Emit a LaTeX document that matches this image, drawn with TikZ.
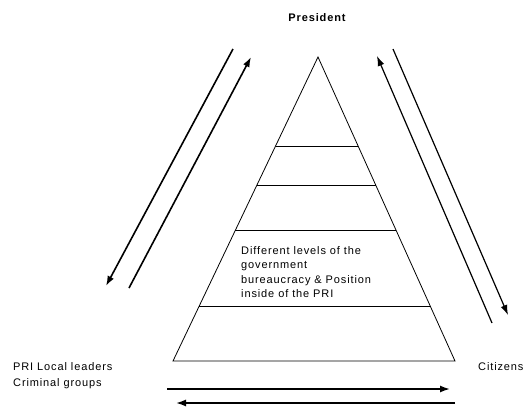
\documentclass[tikz,border=0pt]{standalone}
\usepackage{fontspec}
\setmainfont{Liberation Sans}[LetterSpace=8]
\usetikzlibrary{arrows.meta}
\usetikzlibrary{calc}

\begin{document}
\begin{tikzpicture}[x=1pt, y=-1pt, font=\fontsize{11}{14.5}\selectfont]
\useasboundingbox (0,0) rectangle (528,410);
\coordinate (top) at (318,57);
\coordinate (baseL) at (173,361);
\coordinate (baseR) at (455,361);
\draw[line width=0.8pt] (top) -- (baseL) -- (baseR) -- cycle;
\foreach \t in {0.293,0.424,0.569,0.822}
  \draw[line width=0.8pt] ($(top)!\t!(baseL)$) -- ($(top)!\t!(baseR)$);
\node[font=\fontsize{11}{13}\selectfont\bfseries] (president) at (317,18) {President};
\node[anchor=north west, align=left, inner sep=0pt] (levels) at (241,246)
  {Different levels of the\\government\\bureaucracy \& Position\\inside of the PRI};
\node[anchor=north west, align=left, inner sep=0pt, font=\fontsize{11}{16.5}\selectfont] (pri) at (13,362)
  {PRI Local leaders\\Criminal groups};
\node[anchor=north west, inner sep=0pt] (citizens) at (478,362) {Citizens};
\coordinate (l1s) at (233,49);
\coordinate (l1e) at (106,286);
\coordinate (l2s) at (129,288);
\coordinate (l2e) at (251,57);
\coordinate (r1s) at (492,323);
\coordinate (r1e) at (377,56);
\coordinate (r2s) at (393,49);
\coordinate (r2e) at (508,315);
\coordinate (b1s) at (167,389);
\coordinate (b1e) at (450,389);
\coordinate (b2s) at (455,403);
\coordinate (b2e) at (176,403);
\draw[-{Latex[length=10pt,width=7pt]}, line width=1.6pt] (l1s) -- (l1e);
\draw[-{Latex[length=10pt,width=7pt]}, line width=1.6pt] (l2s) -- (l2e);
\draw[-{Latex[length=10pt,width=7pt]}, line width=1.2pt] (r1s) -- (r1e);
\draw[-{Latex[length=10pt,width=7pt]}, line width=1.2pt] (r2s) -- (r2e);
\draw[-{Latex[length=10pt,width=7pt]}, line width=1.6pt] (b1s) -- (b1e);
\draw[-{Latex[length=10pt,width=7pt]}, line width=1.6pt] (b2s) -- (b2e);
\end{tikzpicture}
\end{document}
